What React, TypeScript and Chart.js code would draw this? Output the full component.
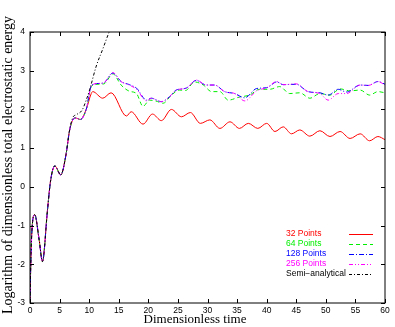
import React, { useEffect, useRef } from "react";
import { Chart, registerables } from "chart.js";

Chart.register(...registerables);

// Shared early growth (all runs coincide)
const earlyTime = [0, 0.1, 0.3, 0.8, 1.55, 2.1, 2.96, 3.5, 4.2, 5.2, 6.05, 6.7, 7.2, 7.7, 8.5];
const earlyValue = [-3, -2.2, -1.2, -0.72, -1.37, -1.93, -0.59, 0.18, 0.54, 0.31, 0.8, 1.47, 1.72, 1.78, 1.74];

const time32 = [9.5, 10.35, 10.6, 12.3, 13.7, 16.3, 17.1, 19.1, 20.7, 22.2, 23.9, 25.6, 27.1, 28.8, 30.4, 32.1, 33.8, 35.4, 36.9, 38.5, 40.0, 41.4, 42.8, 44.2, 45.6, 47.3, 49.0, 50.7, 52.4, 54.1, 55.8, 57.4, 58.8, 60];
const value32 = [2.0, 2.41, 2.46, 2.29, 2.43, 1.83, 1.94, 1.62, 1.88, 1.71, 2.0, 1.81, 1.92, 1.64, 1.73, 1.51, 1.68, 1.51, 1.64, 1.51, 1.64, 1.43, 1.55, 1.37, 1.47, 1.31, 1.45, 1.30, 1.43, 1.25, 1.37, 1.19, 1.30, 1.22];

const time64 = [9.5, 10.4, 11.5, 12.5, 14.0, 15.4, 16.8, 18.0, 19.1, 20.2, 21.2, 22.5, 23.9, 25.3, 26.3, 27.8, 29.3, 30.7, 32.1, 33.5, 35.4, 37.1, 38.8, 40.5, 42.2, 43.9, 45.6, 47.3, 49.0, 50.7, 52.4, 54.1, 55.8, 57.4, 58.8, 60];
const value64 = [2.0, 2.6, 2.65, 2.66, 2.92, 2.63, 2.47, 2.41, 2.08, 2.24, 2.22, 2.16, 2.37, 2.5, 2.49, 2.71, 2.63, 2.46, 2.46, 2.24, 2.32, 2.37, 2.52, 2.52, 2.59, 2.41, 2.43, 2.29, 2.41, 2.37, 2.53, 2.48, 2.5, 2.37, 2.46, 2.43];

const time128 = [9.5, 10.4, 11.5, 12.5, 14.0, 15.4, 16.8, 18.0, 19.7, 20.5, 22.2, 23.6, 24.7, 26.4, 28.1, 29.8, 31.2, 32.9, 34.6, 36.3, 38.3, 40.0, 41.7, 42.8, 45.0, 47.0, 49.0, 50.4, 52.1, 53.5, 55.8, 57.2, 58.8, 60];
const value128 = [2.0, 2.62, 2.67, 2.69, 2.94, 2.72, 2.64, 2.55, 2.24, 2.29, 2.2, 2.33, 2.5, 2.55, 2.75, 2.63, 2.63, 2.46, 2.41, 2.3, 2.54, 2.56, 2.71, 2.64, 2.65, 2.46, 2.43, 2.37, 2.52, 2.45, 2.63, 2.62, 2.72, 2.65];

const time256 = [9.5, 10.4, 11.5, 12.5, 14.0, 15.4, 16.8, 18.0, 19.7, 20.5, 22.2, 23.6, 24.7, 26.4, 28.1, 29.8, 31.2, 32.9, 34.6, 36.3, 38.3, 40.0, 41.7, 42.8, 45.0, 47.0, 49.0, 50.4, 52.1, 53.5, 55.8, 57.2, 58.8, 60];
const value256 = [2.0, 2.62, 2.67, 2.69, 2.95, 2.72, 2.63, 2.52, 2.22, 2.29, 2.2, 2.33, 2.5, 2.55, 2.76, 2.63, 2.63, 2.46, 2.41, 2.22, 2.48, 2.56, 2.72, 2.64, 2.66, 2.46, 2.41, 2.24, 2.41, 2.41, 2.63, 2.62, 2.72, 2.63];

const timeSemi = [7.2, 7.9, 8.8, 9.5, 10.1, 11.2, 12.3, 13.3, 13.6];
const valueSemi = [1.78, 1.87, 1.98, 2.24, 2.52, 3.12, 3.56, 3.97, 4.08];

const legendLabels = ["32 Points", "64 Points", "128 Points", "256 Points", "Semi\u2212analytical"];
const seriesColors = ["#ff0000", "#00ee00", "#0000ff", "#ff00ff", "#000000"];
const seriesDashes: number[][] = [[], [4, 3], [5, 2, 1, 2], [4, 2, 1, 2, 1, 2], [3, 2, 1, 2]];

const xTicks = [0, 5, 10, 15, 20, 25, 30, 35, 40, 45, 50, 55, 60];
const yTicks = [-3, -2, -1, 0, 1, 2, 3, 4];

const xTitle = "Dimensionless time";
const yTitle = "Logarithm of dimensionless total electrostatic energy";

function pts(ts: number[], vs: number[]) {
  return ts.map((t, i) => ({ x: t, y: vs[i] }));
}

export default function App() {
  const ref = useRef<HTMLCanvasElement>(null);
  useEffect(() => {
    if (!ref.current) return;
    const early = pts(earlyTime, earlyValue);
    const earlySemi = early.filter((p) => p.x <= 6.7);
    const sets = [
      early.concat(pts(time32, value32)),
      early.concat(pts(time64, value64)),
      early.concat(pts(time128, value128)),
      early.concat(pts(time256, value256)),
      earlySemi.concat(pts(timeSemi, valueSemi)),
    ];
    const framePlugin = {
      id: "frame",
      afterDraw(chart: any) {
        const { ctx, chartArea: a, scales } = chart;
        const xs = scales.x, ys = scales.y;
        ctx.save();
        ctx.strokeStyle = "#000";
        ctx.lineWidth = 1;
        ctx.setLineDash([]);
        ctx.strokeRect(a.left, a.top, a.right - a.left, a.bottom - a.top);
        ctx.beginPath();
        for (const v of xTicks) {
          const p = Math.round(xs.getPixelForValue(v)) + 0.5;
          ctx.moveTo(p, a.bottom); ctx.lineTo(p, a.bottom - 4);
          ctx.moveTo(p, a.top); ctx.lineTo(p, a.top + 4);
        }
        for (const v of yTicks) {
          const p = Math.round(ys.getPixelForValue(v)) + 0.5;
          ctx.moveTo(a.left, p); ctx.lineTo(a.left + 4, p);
          ctx.moveTo(a.right, p); ctx.lineTo(a.right - 4, p);
        }
        ctx.stroke();
        // legend
        ctx.font = "8.5px 'Liberation Sans', Arial, sans-serif";
        ctx.textBaseline = "middle";
        ctx.textAlign = "left";
        legendLabels.forEach((lab, i) => {
          const y = 234 + i * 10;
          ctx.fillStyle = seriesColors[i];
          ctx.fillText(lab, 286, y);
          ctx.strokeStyle = seriesColors[i];
          ctx.setLineDash(seriesDashes[i]);
          ctx.beginPath();
          ctx.moveTo(349, y + 0.5);
          ctx.lineTo(373, y + 0.5);
          ctx.stroke();
        });
        ctx.setLineDash([]);
        // titles
        ctx.fillStyle = "#000";
        ctx.textAlign = "center";
        ctx.font = "13px 'Liberation Serif', 'Times New Roman', serif";
        ctx.fillText(xTitle, 195, 320);
        ctx.save();
        ctx.translate(8, 165);
        ctx.rotate(-Math.PI / 2);
        ctx.font = "14px 'Liberation Serif', 'Times New Roman', serif";
        ctx.fillText(yTitle, 0, 0);
        ctx.restore();
        ctx.restore();
      },
    };
    const chart = new Chart(ref.current, {
      type: "line",
      data: {
        datasets: sets.map((d, i) => ({
          label: legendLabels[i],
          data: d,
          borderColor: seriesColors[i],
          borderWidth: 1,
          borderDash: seriesDashes[i],
          pointRadius: 0,
          fill: false,
          cubicInterpolationMode: "monotone" as const,
          order: 5 - i,
        })),
      },
      options: {
        animation: false,
        responsive: false,
        devicePixelRatio: 1,
        layout: { padding: { top: 32, right: 10, left: 0, bottom: 0 } },
        plugins: { legend: { display: false }, tooltip: { enabled: false } },
        scales: {
          x: {
            type: "linear",
            min: 0,
            max: 60,
            afterBuildTicks: (s: any) => { s.ticks = xTicks.map((v) => ({ value: v })); },
            ticks: { color: "#000", padding: 3, maxRotation: 0, font: { size: 8.5, family: "'Liberation Sans', Arial, sans-serif" } },
            grid: { display: false, drawTicks: false, tickLength: 0 },
            border: { display: false },
            afterFit: (s: any) => { s.height = 24; },
          },
          y: {
            type: "linear",
            min: -3,
            max: 4,
            afterBuildTicks: (s: any) => { s.ticks = yTicks.map((v) => ({ value: v })); },
            ticks: { color: "#000", padding: 5, font: { size: 8.5, family: "'Liberation Sans', Arial, sans-serif" } },
            grid: { display: false, drawTicks: false, tickLength: 0 },
            border: { display: false },
            afterFit: (s: any) => { s.width = 30; },
          },
        },
      },
      plugins: [framePlugin],
    });
    return () => chart.destroy();
  }, []);
  return (
    <div style={{ position: "absolute", left: 0, top: 0, width: 395, height: 327, background: "#fff" }}>
      <canvas ref={ref} width={395} height={327} />
    </div>
  );
}
